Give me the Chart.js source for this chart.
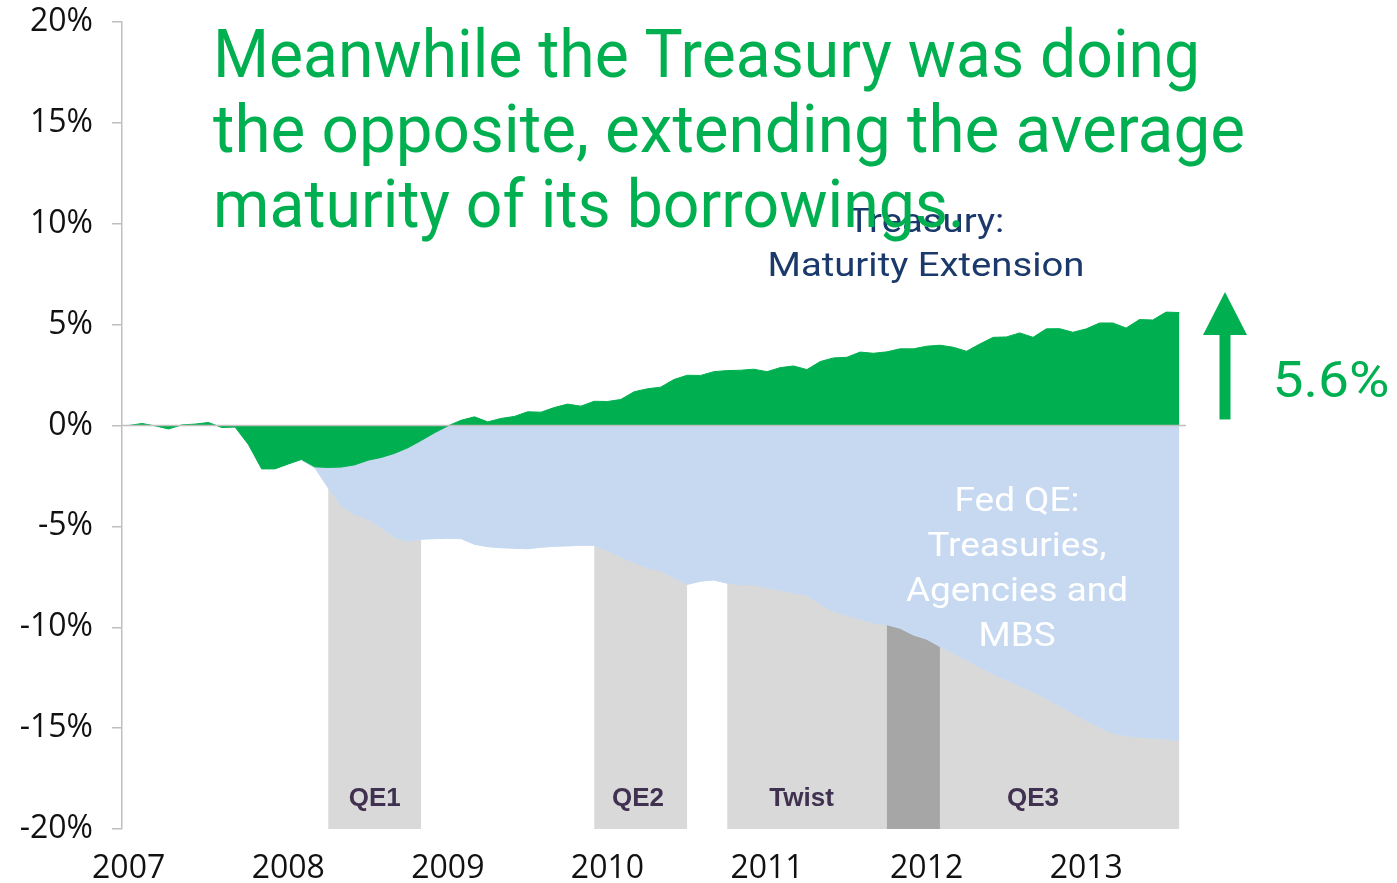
<!DOCTYPE html>
<html lang="en">
<head>
<meta charset="utf-8">
<title>Treasury maturity extension and Fed QE</title>
<script src="https://cdn.jsdelivr.net/npm/chart.js@4.4.1/dist/chart.umd.min.js"></script>
<style>
  html, body { margin: 0; padding: 0; background: #ffffff; }
  #frame { position: relative; width: 1397px; height: 883px; }
  canvas { display: block; }
</style>
</head>
<body>
<div id="frame"><canvas id="chart" width="1397" height="883"></canvas></div>
<script>
// One label per January; months are counted from Jan 2007
const yearLabels = ['2007', '2008', '2009', '2010', '2011', '2012', '2013'];

// Treasury: extension of average maturity of its borrowings, % (monthly, Jan 2007 - Aug 2013)
const treasuryExtension = [
   0.00,  0.10, -0.02, -0.17,  0.03,  0.07,  0.15, -0.10, -0.08, -0.94, -2.15, -2.15,
  -1.91, -1.68, -2.05, -2.08, -2.06, -1.95, -1.72, -1.58, -1.38, -1.10, -0.74, -0.36,
  -0.02,  0.26,  0.43,  0.18,  0.35,  0.45,  0.68,  0.66,  0.89,  1.06,  0.96,  1.20,
   1.19,  1.29,  1.67,  1.82,  1.90,  2.28,  2.49,  2.48,  2.67,  2.72,  2.74,  2.79,
   2.67,  2.87,  2.95,  2.77,  3.17,  3.35,  3.38,  3.64,  3.58,  3.65,  3.80,  3.80,
   3.93,  3.98,  3.88,  3.68,  4.04,  4.37,  4.39,  4.59,  4.37,  4.79,  4.80,  4.62,
   4.79,  5.08,  5.08,  4.83,  5.25,  5.23,  5.62,  5.60
];

// Fed QE: Treasuries, agencies and MBS taken out of the market, % (monthly, Jan 2008 - Aug 2013)
const fedQeFirstMonth = 12;
const fedQe = [
    0.00, -1.72, -2.10, -3.09, -3.99, -4.41, -4.65, -5.07, -5.56, -5.73, -5.64, -5.61,
   -5.59, -5.61, -5.89, -6.01, -6.06, -6.09, -6.11, -6.04, -5.99, -5.97, -5.94, -5.94,
   -6.22, -6.50, -6.80, -7.05, -7.21, -7.54, -7.88, -7.72, -7.66, -7.82, -7.90, -7.90,
   -8.04, -8.17, -8.30, -8.42, -8.86, -9.22, -9.41, -9.60, -9.80, -9.87, -10.05, -10.38,
  -10.59, -10.96, -11.29, -11.62, -11.99, -12.33, -12.62, -12.90, -13.20, -13.53, -13.90, -14.26,
  -14.64, -14.97, -15.25, -15.38, -15.45, -15.50, -15.54, -15.63
];

// Fed programmes (month index since Jan 2007)
const programmeNames = ['QE1', 'QE2', 'Twist', 'QE3'];
const programmeStart = [15, 35, 45, 57];
const programmeEnd   = [22, 42, 61, 79];

const titleLines = [
  'Meanwhile the Treasury was doing',
  'the opposite, extending the average',
  'maturity of its borrowings.'
];
const treasuryLabel = ['Treasury:', 'Maturity Extension'];
const fedLabel = ['Fed QE:', 'Treasuries,', 'Agencies and', 'MBS'];

// ---- styling ----
const GREEN = '#00B050';
const BLUE = '#C6D9F1';
const GREY = '#D9D9D9';
const DARK_GREY = '#A6A6A6';
const AXIS_GREY = '#BFBFBF';
const NAVY = '#1B3A6B';
const PURPLE = '#403151';
const LAST_MONTH = treasuryExtension.length - 1;

// where each programme name sits (month units along the time axis)
const programmeLabelAt = [18.5, 38.3, 50.6, 68];
// set width of each headline line, px
const titleWidths = [987, 1032, 752];

function fedAt(m) { return fedQe[m - fedQeFirstMonth]; }
function fedSpan(from, to) {
  const pts = [];
  for (let m = from; m <= to; m++) pts.push({ x: m, y: fedAt(m) });
  return pts;
}

const treasuryPoints = treasuryExtension.map((v, m) => ({ x: m, y: v }));
const fedPoints = fedSpan(fedQeFirstMonth, fedQeFirstMonth + fedQe.length - 1);

// Twist and QE3 ran together for a few months: shaded darker
const twist = programmeNames.indexOf('Twist');
const qe3 = programmeNames.indexOf('QE3');
const overlapFrom = Math.max(programmeStart[twist], programmeStart[qe3]);
const overlapTo = Math.min(programmeEnd[twist], programmeEnd[qe3]);

const none = 'rgba(0,0,0,0)';
const datasets = [
  { // horizontal axis at 0%
    data: [{ x: -0.5, y: 0 }, { x: LAST_MONTH + 0.5, y: 0 }],
    borderColor: AXIS_GREY, borderWidth: 1.5, fill: false, pointRadius: 0
  },
  {
    label: 'Treasury: Maturity Extension',
    data: treasuryPoints,
    borderColor: GREEN, borderWidth: 1, backgroundColor: GREEN,
    fill: 'origin', pointRadius: 0, tension: 0
  },
  {
    label: 'Fed QE',
    data: fedPoints,
    borderColor: BLUE, borderWidth: 1, backgroundColor: BLUE,
    fill: 'origin', pointRadius: 0, tension: 0
  },
  {
    label: 'Twist + QE3',
    data: fedSpan(overlapFrom, overlapTo),
    borderColor: none, borderWidth: 0, backgroundColor: DARK_GREY,
    fill: 'start', pointRadius: 0, tension: 0
  }
];
programmeNames.forEach((name, i) => {
  datasets.push({
    label: name,
    data: fedSpan(programmeStart[i], programmeEnd[i]),
    borderColor: none, borderWidth: 0, backgroundColor: GREY,
    fill: 'start', pointRadius: 0, tension: 0
  });
});

function drawScaled(ctx, text, x, baseline, sx, align) {
  const w = ctx.measureText(text).width * sx;
  const left = align === 'center' ? x - w / 2 : (align === 'right' ? x - w : x);
  ctx.save();
  ctx.translate(left, baseline);
  ctx.scale(sx, 1);
  ctx.textAlign = 'left';
  ctx.textBaseline = 'alphabetic';
  ctx.fillText(text, 0, 0);
  ctx.restore();
}

const overlay = {
  id: 'overlay',
  afterDatasetsDraw(chart) {
    const { ctx, scales: { x, y } } = chart;
    ctx.save();
    ctx.font = 'bold 26px "Liberation Sans", Arial, sans-serif';
    ctx.fillStyle = PURPLE;
    ctx.textAlign = 'center';
    ctx.textBaseline = 'middle';
    programmeNames.forEach((name, i) => {
      ctx.fillText(name, x.getPixelForValue(programmeLabelAt[i]), y.getPixelForValue(-18.5));
    });
    ctx.restore();
  },
  afterDraw(chart) {
    const { ctx, scales: { y } } = chart;
    ctx.save();

    // series captions
    ctx.font = '400 34px Roboto, sans-serif';
    ctx.fillStyle = NAVY;
    let sx = 317 / ctx.measureText(treasuryLabel[1]).width;
    drawScaled(ctx, treasuryLabel[0], 926, 232, sx, 'center');
    drawScaled(ctx, treasuryLabel[1], 926, 276, sx, 'center');

    ctx.fillStyle = '#FFFFFF';
    sx = 222 / ctx.measureText(fedLabel[2]).width;
    fedLabel.forEach((t, i) => drawScaled(ctx, t, 1017, 511 + i * 45, sx, 'center'));

    // headline
    ctx.font = '400 66px Roboto, sans-serif';
    ctx.fillStyle = GREEN;
    titleLines.forEach((t, i) => {
      const s = titleWidths[i] / ctx.measureText(t).width;
      drawScaled(ctx, t, 213, 77 + i * 75, s, 'left');
    });

    // arrow and final value
    const ax = 1225;
    const base = y.getPixelForValue(0.3);
    const headBase = 335;
    const tip = 292;
    ctx.fillStyle = GREEN;
    ctx.fillRect(ax - 5.5, headBase, 11, base - headBase);
    ctx.beginPath();
    ctx.moveTo(ax - 22, headBase);
    ctx.lineTo(ax + 22, headBase);
    ctx.lineTo(ax, tip);
    ctx.closePath();
    ctx.fill();

    const finalText = treasuryExtension[LAST_MONTH].toFixed(1) + '%';
    ctx.font = '400 50px Roboto, sans-serif';
    sx = 117 / ctx.measureText(finalText).width;
    drawScaled(ctx, finalText, 1331, 397, sx, 'center');

    ctx.restore();
  }
};

function build() {
  new Chart(document.getElementById('chart'), {
    type: 'line',
    data: { datasets },
    options: {
      responsive: false,
      devicePixelRatio: 1,
      animation: false,
      events: [],
      layout: { padding: { left: 0, top: 22, right: 211, bottom: 0 } },
      plugins: {
        legend: { display: false },
        tooltip: { enabled: false },
        filler: { propagate: false }
      },
      scales: {
        x: {
          type: 'linear',
          min: -0.5,
          max: LAST_MONTH + 0.5,
          grid: { display: false, drawTicks: false },
          border: { display: false },
          afterBuildTicks(axis) {
            axis.ticks = yearLabels.map((_, i) => ({ value: i * 12 }));
          },
          afterFit(axis) {
            axis.height = 54;
            axis.paddingLeft = 0;
            axis.paddingRight = 0;
          },
          ticks: {
            autoSkip: false,
            maxRotation: 0,
            padding: 21,
            color: '#111111',
            font: { family: '"Open Sans", sans-serif', size: 32 },
            callback: (v) => yearLabels[Math.round(v / 12)]
          }
        },
        y: {
          min: -20,
          max: 20,
          grid: { drawOnChartArea: false, drawTicks: true, tickLength: 10, color: AXIS_GREY, lineWidth: 1.5 },
          border: { display: true, color: AXIS_GREY, width: 1.5 },
          afterFit(axis) {
            axis.width = 122;
            axis.paddingTop = 0;
            axis.paddingBottom = 0;
          },
          ticks: {
            stepSize: 5,
            padding: 19,
            color: '#111111',
            font: { family: '"Open Sans", sans-serif', size: 32 },
            callback: (v) => v + '%'
          }
        }
      }
    },
    plugins: [overlay]
  });
}

const wanted = ['400 66px Roboto', '400 34px Roboto', '32px "Open Sans"', 'bold 26px "Liberation Sans"'];
Promise.all(wanted.map(f => document.fonts.load(f).catch(() => null))).then(build, build);
</script>
</body>
</html>
